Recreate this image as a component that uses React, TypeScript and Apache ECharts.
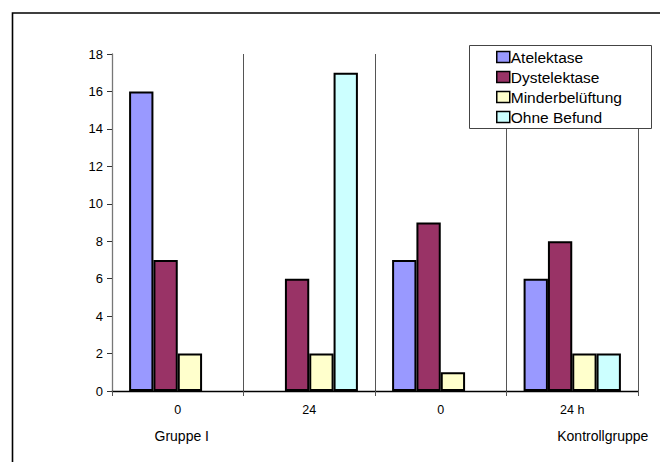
import React, { useEffect, useRef } from "react";
import * as echarts from "echarts";

const categories = ["0", "24", "0", "24 h"];
const groupLabels = ["Gruppe I", "", "", "Kontrollgruppe"];
const seriesNames = ["Atelektase", "Dystelektase", "Minderbelüftung", "Ohne Befund"];
const atelektase = [16, 0, 7, 6];
const dystelektase = [7, 6, 9, 8];
const minderbelueftung = [2, 2, 1, 2];
const ohneBefund = [0, 17, 0, 2];
const colors = ["#9999FF", "#993366", "#FFFFCC", "#CCFFFF"];

const FONT = "'Liberation Sans', Arial, sans-serif";

export default function App() {
  const ref = useRef<HTMLDivElement>(null);

  useEffect(() => {
    if (!ref.current) return;
    const chart = echarts.init(ref.current, undefined, { renderer: "svg" });
    const values = [atelektase, dystelektase, minderbelueftung, ohneBefund];

    chart.setOption({
      animation: false,
      textStyle: { fontFamily: FONT, color: "#000" },
      grid: { left: 112, right: 22, top: 54, bottom: 71, containLabel: false },
      legend: {
        orient: "vertical",
        left: 470,
        top: 46,
        padding: [3, 10, 5, 26],
        itemWidth: 13,
        itemHeight: 11,
        itemGap: 4,
        icon: "rect",
        textStyle: {
          fontFamily: FONT,
          fontSize: 15.5,
          color: "#000",
          padding: [0, 0, 0, -4],
        },
        itemStyle: { borderColor: "#000", borderWidth: 1.5 },
        z: 6,
        data: seriesNames,
      },
      graphic: [
        {
          type: "rect",
          z: 5,
          shape: { x: 469.5, y: 45.5, width: 182, height: 83 },
          style: { fill: "#fff", stroke: "#444", lineWidth: 1 },
        },
        {
          type: "rect",
          z: 10,
          silent: true,
          shape: { x: 12.5, y: 13, width: 700, height: 500 },
          style: { fill: "none", stroke: "#000", lineWidth: 1.6 },
        },
      ],
      xAxis: {
        type: "category",
        data: categories,
        boundaryGap: true,
        axisLine: { lineStyle: { color: "#000", width: 1.3 } },
        axisTick: { show: true, length: 5, interval: 0, lineStyle: { color: "#555" } },
        splitLine: { show: true, interval: 0, lineStyle: { color: "#555", width: 1 } },
        axisLabel: {
          interval: 0,
          margin: 6,
          fontFamily: FONT,
          fontSize: 12.5,
          color: "#000",
          lineHeight: 26,
          formatter: (v: string, i: number) => {
            const g = groupLabels[i];
            if (!g) return v;
            return v + "\n" + (i === 3 ? "{k|" + g + "}" : "{g|" + g + "}");
          },
          rich: {
            g: { fontFamily: FONT, fontSize: 14, color: "#000", lineHeight: 26, padding: [0, 0, 0, 8] },
            k: { fontFamily: FONT, fontSize: 14, color: "#000", lineHeight: 26, padding: [0, 0, 0, 61] },
          },
        },
      },
      yAxis: {
        type: "value",
        min: 0,
        max: 18,
        interval: 2,
        axisLine: { show: true, lineStyle: { color: "#777", width: 1.3 } },
        axisTick: { show: true, length: 5, lineStyle: { color: "#333" } },
        splitLine: { show: false },
        axisLabel: { margin: 9, fontFamily: FONT, fontSize: 13, color: "#000" },
      },
      series: seriesNames.map((name, k) => ({
        name,
        type: "bar",
        // a count of zero leaves that slot empty
        data: values[k].map((v) => (v === 0 ? "-" : v)),
        barGap: "0%",
        barCategoryGap: "26%",
        itemStyle: { color: colors[k], borderColor: "#000", borderWidth: 2 },
      })),
    });

    return () => chart.dispose();
  }, []);

  return (
    <div
      ref={ref}
      style={{ position: "fixed", left: 0, top: 0, width: 660, height: 462, background: "#fff" }}
    />
  );
}
